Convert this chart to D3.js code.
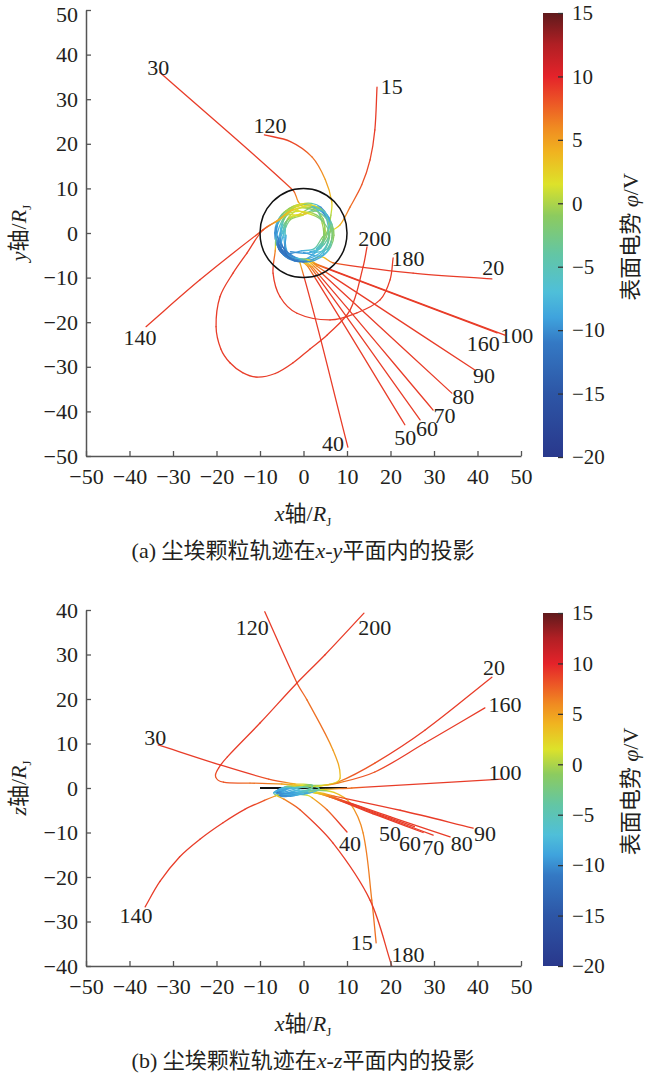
<!DOCTYPE html>
<html>
<head>
<meta charset="utf-8">
<script src="https://cdn.jsdelivr.net/npm/d3@7"></script>
<style>
  body { margin: 0; background: #fff; }
  svg text { font-family: "Liberation Serif", "Noto Sans CJK SC", serif; fill: #231f20; }
</style>
</head>
<body>
<svg id="chart" width="650" height="1074"></svg>
<script>
// ---- data ----
const xTicks = [-50, -40, -30, -20, -10, 0, 10, 20, 30, 40, 50];
const yTicksA = [-50, -40, -30, -20, -10, 0, 10, 20, 30, 40, 50];
const zTicksB = [-40, -30, -20, -10, 0, 10, 20, 30, 40];
const cbTicks = [-20, -15, -10, -5, 0, 5, 10, 15];

// particle labels, same order as the track lists below
const trackLabels = ['15', '20', '30', '40', '50', '60', '70', '80', '90', '100', '120', '140', '160', '180', '200'];

// x-y projection, [x, y, surface potential], from the inner ring outwards
const xyPaths = [
  [[0.5,6.5,3],[-3,5.3,2],[-5.8,2.2,-5],[-6.3,-1.2,-10],[-4,-4.5,-11],[-0.5,-4,-9],[2.5,-3.5,-5],[4.5,-0.8,-1],[6.8,0.7,1],[8.4,1.8,4],[10.7,5.8,7],[13.4,10.8,8],[15.3,16.4,8.5],[16.4,23.1,9],[16.9,32.7,9]],
  [[3.5,5.8,-8],[0,4.2,0],[-3.5,3.2,-2],[-4.2,-0.5,-6],[-3.5,-4.6,-9],[0.5,-6.5,-8],[4,-5.3,2],[6.8,-6.7,7],[25.2,-9,9],[43.3,-10.3,9]],
  [[-1,4,3],[-4.5,3.8,-1],[-6.5,0,-9],[-5,-4.5,-11],[-1,-6.2,-10],[3,-4.2,-7],[4.5,-1.5,-2],[5.8,2,0],[3.5,5.5,-6],[0,5.9,2],[-1.2,7,5],[-2.4,9.6,8],[-33,36,9]],
  [[1.5,-4.2,-9],[4,-3.4,-5],[4.8,-0.3,-1],[4.5,3.2,-1],[1,6.2,3],[-3.2,5.5,1],[-6.2,1.5,-9],[-5.5,-3,-11],[-2.5,-5.8,-8],[-0.8,-6.7,4],[10.2,-48,9]],
  [[2,-4.5,-9],[5.5,-3.5,-4],[6.5,1,-1],[3.3,5.8,-9],[-1,4.2,2],[-4,2.5,-3],[-4.5,-1,-8],[-3.5,-5,-9],[-0.5,-6.3,2],[1,-7.5,6],[23.3,-43,9]],
  [[0,-4.4,-10],[4.5,-5,-8],[7,-0.5,-1],[5,4.2,-5],[0.5,6.5,1],[-4.5,4.6,-1],[-6.6,0,-10],[-4.5,-5,-10],[0,-6.4,2],[1.5,-7.5,6],[26.8,-41.9,9]],
  [[3,-3.5,-7],[4.5,-1.5,-2],[4.3,2.2,0],[2.5,5.8,-8],[-2,6,2],[-5,2,-6],[-5,-2.5,-11],[-3,-5.2,-9],[0.5,-6.5,1],[2,-7.6,6],[29.8,-39.7,9]],
  [[5.5,-4,-6],[6.8,0.5,-1],[4.5,4.8,-9],[0,4.2,3],[-3,3.5,1],[-5.2,0.5,-7],[-5.7,-3.6,-12],[-2.5,-5.9,-9],[1,-6.3,1],[2.5,-7.5,6],[34.1,-35.9,9]],
  [[2.5,-4.2,-9],[4.8,-2.5,-4],[6.2,1,-1],[4,5.8,-10],[-0.5,6.5,2],[-4.2,3.5,-2],[-5.2,-0.5,-10],[-4.8,-4.5,-11],[-2,-6.3,-10],[1.5,-6.2,1],[3,-7.4,6],[39.4,-30.7,9]],
  [[4.5,-4.8,-8],[6,-0.5,-2],[4,3,-3],[0.5,4.5,3],[-4,5,0],[-6.2,0.5,-10],[-4.5,-3.5,-12],[-1.5,-5.6,-9],[1.5,-6,1],[3,-7,6],[46.3,-22.9,9]],
  [[0,4,1],[-3,3,-1],[-4.5,0,-6],[-5,-3.8,-12],[-1.5,-6.2,-11],[3,-5.5,-9],[5.5,-2.5,-4],[5.8,1,-1],[6.3,4,0],[6.5,7,3],[5,12,5],[2,17,7],[-3,20.5,8.5],[-9,22,9]],
  [[-4.2,1,-6],[-5.8,-2.5,-12],[-3,-5.5,-11],[1,-5.8,-9],[4.8,-3.5,-6],[5.8,0,-2],[4.5,4.5,-10],[0.5,5.8,2],[-3,4.9,4],[-6,2.8,5],[-9.3,0.7,8],[-23.8,-10.5,9],[-36.2,-21,9]],
  [[3,-3.8,-7],[5.2,-1,-1],[5.8,3.5,-9],[1.5,6.3,2],[-3,4,1],[-4.5,1.2,-4],[-5.5,-3,-12],[-2,-5.5,-10],[1,-6,1],[2.5,-6.9,6],[44.5,-22.4,9]],
  [[-3,-4.2,-10],[1,-4.5,-9],[4,-3,-5],[5,0.5,0],[3.8,3.5,-2],[0,4.8,2],[-4,4,0],[-6.2,-0.5,-9],[-6.5,-4,6],[-7,-9,9],[-5.4,-14.3,9],[-1.5,-18,9],[6.1,-19.5,9],[12.3,-17.9,9],[17.6,-15,9],[19.9,-10.5,9],[20.6,-5.6,9]],
  [[-4,-0.5,-8],[-4,-4.8,-12],[0,-6.5,-11],[4.8,-4.8,-8],[6.6,-0.5,-2],[5,3.5,-4],[1,5.5,-1],[-2.5,5.2,3],[-5.5,3,4],[-9.3,0.7,8],[-13,-4.5,9],[-16.2,-9,9],[-19.2,-14.3,9],[-20.1,-21,9],[-19,-26,9],[-16.9,-29.1,9],[-14,-31.3,9],[-10.7,-32.3,9],[-6.5,-31.5,9],[-2.4,-29.1,9],[1.5,-26,9],[5.5,-22.8,9],[10.7,-17.3,9],[13.7,-7.6,9],[14.6,-3.1,9]]
];

// x-z projection, [x, z, surface potential]
const xzPaths = [
  [[1,0.5,0],[-3,0.3,-3],[-6,-0.5,-9],[-5,-1.2,-10],[-1,-1,-9],[3,-0.5,-4],[7,-1,3],[10.7,-3.4,5],[13.7,-10.1,6],[15.7,-25.2,6.5],[16.7,-34.8,7]],
  [[1,-1,-6],[-3,-1.8,-9],[-6,-1.5,-10],[-4,-0.8,-9],[0,0.2,-6],[4,0.5,2],[7.9,1.3,6],[16.4,5.6,8],[27.9,13,9],[43.3,24.9,9]],
  [[-6,-0.8,-9],[-4,-1.4,-10],[0,-0.8,-8],[2,0.4,-2],[-2,0.9,4],[-8,2,8],[-19.2,5.2,9],[-33.4,9.7,9]],
  [[-3,0.2,-4],[-6,-0.8,-10],[-5,-1.6,-11],[-2,-1.4,-9],[0.8,-1.6,1],[2,-2.2,4],[5.4,-4.9,7],[10,-9.9,9]],
  [[-4,-0.5,-8],[-6,-1.2,-10],[-3,-1.6,-10],[0,-1.2,-6],[2,-1,2],[6,-1.8,7],[15,-5,9],[25.5,-8.7,9]],
  [[-2,0.2,-5],[-5.5,-0.8,-10],[-4,-1.7,-11],[-0.5,-1.3,-7],[2,-1,2],[6,-2,7],[16,-5.8,9],[27.5,-10,9]],
  [[-1,-0.3,-6],[-4.5,-1.3,-10],[-6.2,-1,-9],[-3,-1.8,-10],[0.5,-1.1,-4],[2,-1,2],[6,-2,7],[18,-6.3,9],[29.8,-10.6,9]],
  [[-4,-0.3,-7],[-5.5,-1.6,-11],[-2,-1.3,-8],[2.5,-1,2],[6.5,-2,7],[20,-6.5,9],[33.7,-11,9]],
  [[-3,0,-5],[-6.5,-0.8,-9],[-5,-1.5,-10],[-1,-0.5,-7],[3,-0.9,2],[7,-1.8,7],[22.2,-5,9],[39,-9,9]],
  [[-1,0.4,-2],[-5,0,-8],[-6,-1,-11],[-3,-1.2,-9],[1,-0.6,-5],[5,-0.3,3],[11.1,0,7],[45.6,2,9]],
  [[1,-1,-8],[-3,-1.5,-10],[-5,-0.3,-8],[-2,0.5,2],[2,0.6,-2],[6,0.8,1],[8.4,2.2,3],[6.8,8.5,5],[0.8,19.8,7],[-1.5,23.6,8],[-8.9,39.6,9]],
  [[0,0.4,-2],[3.5,0,-4],[2,-1,-8],[-2,-1.5,-10],[-5,-1.3,-6],[-6.5,-1.8,5],[-9,-2.8,8],[-13.5,-4.8,9],[-18.5,-7.8,9],[-23.8,-11.5,9],[-28.5,-15.5,9],[-33,-21,9],[-36.4,-26.7,9]],
  [[0,-1.2,-7],[-4,-1.8,-10],[-5.5,-1,-10],[-2,0,-7],[3,0.4,1],[7.9,1.1,6],[16.4,3.6,8],[27.9,10.1,9],[41.7,18,9]],
  [[3,-0.5,-5],[0,0.2,-4],[-4,-0.2,-9],[-6.8,-1,-8],[-6.2,-1.7,2],[-4.5,-2.5,6],[-0.8,-4.9,8],[6.8,-12.4,9],[15.3,-25.2,9],[20.3,-40,9]],
  [[-5.5,-1.3,-10],[-2,-1,-9],[2,0.3,-3],[-1,0.6,3],[-5,0.9,5],[-12.3,1.1,7],[-18.4,1.3,8],[-20.2,2.5,8],[-19.5,4.5,9],[-17.5,7,9],[-10,14.6,9],[-1.5,23.6,9],[4.9,29.9,9],[13.9,39.3,9]]
];

// where each number label sits, in data units
const xyLabelAt = [[20.3,33],[43.6,-7.6],[-33.4,37.2],[6.8,-47.1],[23.4,-45.8],[28.4,-43.9],[32.4,-40.9],[36.7,-36.6],[41.5,-31.8],[49,-22.9],[-7.7,24.2],[-37.6,-23.3],[41.3,-24.7],[24,-5.6],[16.4,-1.1]];
const xzLabelAt = [[13.4,-34.6],[43.8,27.2],[-34.1,11.5],[10.7,-12.4],[19.9,-10.1],[24.5,-12.4],[29.8,-13.3],[36.4,-12.4],[41.7,-10.1],[46.3,3.6],[-11.8,36.2],[-38.5,-28.5],[46.3,18.7],[24,-37.3],[16.4,36.2]];

// colour map of the surface potential
const cmapStops = [-20, -15, -11, -9, -7, -4, -1, 1.5, 4, 6, 8, 10, 12.5, 15];
const cmapColors = ['#29388c', '#2d56a6', '#3479c4', '#3fa3dd', '#4fbfd9', '#63c6a4', '#8ccb5f', '#dde22a', '#f0b420', '#f08a21', '#ec5526', '#e4232a', '#b11f24', '#5f1a1c'];

// ---- drawing ----
const svg = d3.select('#chart');
const defs = svg.append('defs');
const cmap = d3.scaleLinear().domain(cmapStops).range(cmapColors).clamp(true);

const panels = [
    { key: 'a', paths: xyPaths, labels: xyLabelAt, yDomain: [-50, 50], yTicks: yTicksA,
      top: 10, bottom: 456, cbTop: 13, cbBottom: 457, yName: 'y', pair: 'x-y', tag: '(a)' },
    { key: 'b', paths: xzPaths, labels: xzLabelAt, yDomain: [-40, 40], yTicks: zTicksB,
      top: 610, bottom: 966, cbTop: 613, cbBottom: 966, yName: 'z', pair: 'x-z', tag: '(b)' }
];

function styleAxis(g) {
    g.selectAll('.domain').attr('stroke', '#555').attr('stroke-width', 1.5);
    g.selectAll('.tick line').attr('stroke', '#555').attr('stroke-width', 1.3);
    g.selectAll('.tick text').attr('font-size', 22).attr('fill', '#231f20')
        .attr('font-family', '"Liberation Serif", serif');
}

function drawPanel(p) {
    const x = d3.scaleLinear().domain([-50, 50]).range([86, 521]);
    const y = d3.scaleLinear().domain(p.yDomain).range([p.bottom, p.top]);
    const g = svg.append('g');

    // Jupiter ring: circle seen from above, flat bar seen edge-on
    if (p.key === 'b') {
        g.append('line')
            .attr('x1', x(-10)).attr('x2', x(10)).attr('y1', y(0)).attr('y2', y(0))
            .attr('stroke', '#111').attr('stroke-width', 2.2);
    }

    // trajectories, each piece coloured by potential
    p.paths.forEach((track, ti) => {
        const pts = track.map(d => [x(d[0]), y(d[1]), d[2]]);
        const tan = pts.map((q, i) => {
            const a = pts[Math.max(i - 1, 0)], b = pts[Math.min(i + 1, pts.length - 1)];
            const dx = b[0] - a[0], dy = b[1] - a[1];
            const L = Math.hypot(dx, dy) || 1;
            return [dx / L, dy / L];
        });
        for (let i = 0; i < pts.length - 1; i++) {
            const p0 = pts[i], p1 = pts[i + 1];
            const len = Math.hypot(p1[0] - p0[0], p1[1] - p0[1]);
            const k = len / 3;
            const path = d3.path();
            path.moveTo(p0[0], p0[1]);
            path.bezierCurveTo(p0[0] + tan[i][0] * k, p0[1] + tan[i][1] * k,
                p1[0] - tan[i + 1][0] * k, p1[1] - tan[i + 1][1] * k, p1[0], p1[1]);

            const id = 'g' + p.key + ti + '_' + i;
            const grad = defs.append('linearGradient').attr('id', id)
                .attr('gradientUnits', 'userSpaceOnUse')
                .attr('x1', p0[0]).attr('y1', p0[1]).attr('x2', p1[0]).attr('y2', p1[1]);
            const ramp = Math.min(1, 18 / len);
            [0, 0.25, 0.5, 0.75, 1].forEach(t => {
                grad.append('stop').attr('offset', t * ramp)
                    .attr('stop-color', cmap(p0[2] + t * (p1[2] - p0[2])));
            });
            if (ramp < 1) grad.append('stop').attr('offset', 1).attr('stop-color', cmap(p1[2]));

            g.append('path').attr('d', path.toString())
                .attr('fill', 'none').attr('stroke', 'url(#' + id + ')')
                .attr('stroke-width', 1.3).attr('stroke-linecap', 'round');
        }
    });

    if (p.key === 'a') {
        g.append('ellipse')
            .attr('cx', x(0)).attr('cy', y(0))
            .attr('rx', x(10) - x(0)).attr('ry', y(0) - y(10))
            .attr('fill', 'none').attr('stroke', '#111').attr('stroke-width', 1.5);
    }

    // number labels
    g.selectAll('text.lab').data(p.labels).enter().append('text')
        .attr('class', 'lab')
        .attr('x', d => x(d[0])).attr('y', d => y(d[1]))
        .attr('dy', '0.35em').attr('text-anchor', 'middle')
        .attr('font-size', 22)
        .text((d, i) => trackLabels[i]);

    // axes
    const ax = svg.append('g').attr('transform', 'translate(0,' + p.bottom + ')')
        .call(d3.axisBottom(x).tickValues(xTicks).tickSize(-5).tickSizeOuter(0).tickPadding(12));
    styleAxis(ax);
    const ay = svg.append('g').attr('transform', 'translate(86,0)')
        .call(d3.axisLeft(y).tickValues(p.yTicks).tickSize(-5).tickSizeOuter(0).tickPadding(8));
    styleAxis(ay);
    // top label of panel (a) sits at the page edge: keep it just inside
    if (p.top < 20) {
        ay.selectAll('.tick').filter(d => d === p.yDomain[1]).select('text').attr('dy', '0.5em');
    }

    // axis titles
    const xt = svg.append('text').attr('x', 303).attr('y', p.bottom + 65)
        .attr('text-anchor', 'middle').attr('font-size', 22);
    xt.append('tspan').attr('font-style', 'italic').text('x');
    xt.append('tspan').text('轴/');
    xt.append('tspan').attr('font-style', 'italic').text('R');
    xt.append('tspan').attr('font-size', 13).attr('dy', 5).text('J');

    const yt = svg.append('text')
        .attr('transform', 'translate(18,' + ((p.top + p.bottom) / 2) + ') rotate(-90)')
        .attr('dy', '0.35em').attr('text-anchor', 'middle').attr('font-size', 22);
    yt.append('tspan').attr('font-style', 'italic').text(p.yName);
    yt.append('tspan').text('轴/');
    yt.append('tspan').attr('font-style', 'italic').text('R');
    yt.append('tspan').attr('font-size', 13).attr('dy', 5).text('J');

    // caption
    const cap = svg.append('text').attr('x', 303).attr('y', p.bottom + 102)
        .attr('text-anchor', 'middle').attr('font-size', 22);
    cap.append('tspan').text(p.tag + ' 尘埃颗粒轨迹在');
    cap.append('tspan').attr('font-style', 'italic').text(p.pair);
    cap.append('tspan').text('平面内的投影');

    // colour bar
    const cb = d3.scaleLinear().domain([-20, 15]).range([p.cbBottom, p.cbTop]);
    const cbId = 'cb' + p.key;
    const cbGrad = defs.append('linearGradient').attr('id', cbId)
        .attr('x1', 0).attr('y1', 1).attr('x2', 0).attr('y2', 0);
    cmapStops.forEach((v, i) => {
        cbGrad.append('stop').attr('offset', (v + 20) / 35).attr('stop-color', cmapColors[i]);
    });
    svg.append('rect')
        .attr('x', 543).attr('width', 20)
        .attr('y', cb(15)).attr('height', cb(-20) - cb(15))
        .attr('fill', 'url(#' + cbId + ')');
    const ac = svg.append('g').attr('transform', 'translate(563,0)')
        .call(d3.axisRight(cb).tickValues(cbTicks).tickSize(-5).tickSizeOuter(0).tickPadding(9));
    styleAxis(ac);
    ac.select('.domain').remove();
    ac.selectAll('.tick line').attr('stroke', '#333');
    ac.selectAll('.tick text').attr('font-size', 21);

    const ct = svg.append('text')
        .attr('transform', 'translate(630,' + ((p.cbTop + p.cbBottom) / 2 + 2) + ') rotate(-90)')
        .attr('dy', '0.35em').attr('text-anchor', 'middle').attr('font-size', 22);
    ct.append('tspan').text('表面电势 ');
    ct.append('tspan').attr('font-style', 'italic').text('φ');
    ct.append('tspan').text('/V');
}

panels.forEach(drawPanel);
</script>
</body>
</html>
